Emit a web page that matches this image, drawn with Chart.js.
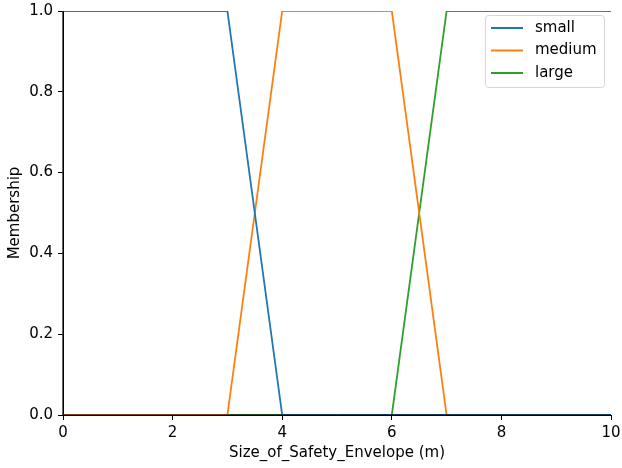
<!DOCTYPE html>
<html>
<head>
<meta charset="utf-8">
<script src="https://cdn.jsdelivr.net/npm/chart.js@4.4.0/dist/chart.umd.min.js"></script>
<style>
  html, body { margin: 0; padding: 0; background: #fff; }
  #wrap { width: 622px; height: 468px; }
</style>
</head>
<body>
<div id="wrap"><canvas id="fuzzyChart" width="622" height="468"></canvas></div>
<script>
// membership functions (x breakpoints and membership values)
const xSmall = [0, 3, 4, 10];
const ySmall = [1, 1, 0, 0];
const xMedium = [0, 3, 4, 6, 7, 10];
const yMedium = [0, 0, 1, 1, 0, 0];
const xLarge = [0, 6, 7, 10];
const yLarge = [0, 0, 1, 1];
const seriesNames = ['small', 'medium', 'large'];
const seriesColors = ['#1f77b4', '#ff7f0e', '#2ca02c'];
const xTicks = [0, 2, 4, 6, 8, 10];
const yTicks = [0, 0.2, 0.4, 0.6, 0.8, 1.0];

function toPoints(xs, ys) {
    return xs.map((x, i) => ({ x: x, y: ys[i] }));
}

const FONT = 'DejaVu Sans';
const FSIZE = 15;

// spines sit on top of the lines, like matplotlib
const spinesOnTop = {
    id: 'spinesOnTop',
    afterDatasetsDraw(chart) {
        const ctx = chart.ctx;
        const a = chart.chartArea;
        ctx.save();
        ctx.strokeStyle = '#000';
        ctx.lineWidth = 1.2;
        ctx.beginPath();
        ctx.moveTo(a.left, a.top);
        ctx.lineTo(a.left, a.bottom);
        ctx.lineTo(a.right, a.bottom);
        ctx.stroke();
        ctx.restore();
    }
};

// matplotlib-like legend box in the upper right corner
const boxLegend = {
    id: 'boxLegend',
    afterDraw(chart) {
        const ctx = chart.ctx;
        const area = chart.chartArea;
        const w = 119, h = 72;
        const left = area.right - 126;
        const top = area.top + 4;
        ctx.save();
        ctx.fillStyle = 'rgba(255,255,255,0.8)';
        ctx.strokeStyle = '#d6d6d6';
        ctx.lineWidth = 1;
        ctx.beginPath();
        ctx.roundRect(left + 0.5, top + 0.5, w, h, 3);
        ctx.fill();
        ctx.stroke();
        ctx.font = FSIZE + 'px "' + FONT + '"';
        ctx.textBaseline = 'middle';
        chart.data.datasets.forEach((ds, i) => {
            const y = top + 13 + i * 22.5;
            ctx.strokeStyle = ds.borderColor;
            ctx.lineWidth = 2;
            ctx.beginPath();
            ctx.moveTo(left + 6, y);
            ctx.lineTo(left + 38, y);
            ctx.stroke();
            ctx.fillStyle = '#000';
            ctx.fillText(ds.label, left + 50, y);
        });
        ctx.restore();
    }
};

document.addEventListener("DOMContentLoaded", function() {
    var ctx = document.getElementById('fuzzyChart').getContext('2d');
    var chart = new Chart(ctx, {
        type: 'line',
        data: {
            datasets: [
                { label: seriesNames[0], data: toPoints(xSmall, ySmall) },
                { label: seriesNames[1], data: toPoints(xMedium, yMedium) },
                { label: seriesNames[2], data: toPoints(xLarge, yLarge) }
            ].map((ds, i) => Object.assign(ds, {
                borderColor: seriesColors[i],
                backgroundColor: seriesColors[i],
                borderWidth: 1.8,
                pointRadius: 0,
                tension: 0,
                fill: false
            }))
        },
        options: {
            responsive: false,
            animation: false,
            layout: { padding: { left: 0, right: 11, top: 11, bottom: 0 } },
            plugins: {
                legend: { display: false },
                tooltip: { enabled: false }
            },
            scales: {
                x: {
                    type: 'linear',
                    min: 0,
                    max: 10,
                    afterBuildTicks: axis => { axis.ticks = xTicks.map(v => ({ value: v })); },
                    afterFit: axis => {
                        axis.height = 53;
                        axis.paddingLeft = 0;
                        axis.paddingRight = 0;
                    },
                    ticks: {
                        color: '#000',
                        font: { family: FONT, size: FSIZE },
                        padding: 4,
                        maxRotation: 0,
                        callback: v => String(v)
                    },
                    grid: {
                        drawOnChartArea: false,
                        drawTicks: true,
                        tickLength: 5,
                        tickColor: '#000'
                    },
                    border: { color: '#000', width: 1 },
                    title: {
                        display: true,
                        text: 'Size_of_Safety_Envelope (m)',
                        color: '#000',
                        font: { family: FONT, size: FSIZE },
                        padding: { top: 2, bottom: 6 }
                    }
                },
                y: {
                    min: 0,
                    max: 1,
                    afterBuildTicks: axis => { axis.ticks = yTicks.map(v => ({ value: v })); },
                    afterFit: axis => {
                        axis.width = 63;
                        axis.paddingTop = 0;
                        axis.paddingBottom = 0;
                    },
                    ticks: {
                        color: '#000',
                        font: { family: FONT, size: FSIZE },
                        padding: 5,
                        callback: v => v.toFixed(1)
                    },
                    grid: {
                        drawOnChartArea: false,
                        drawTicks: true,
                        tickLength: 5,
                        tickColor: '#000'
                    },
                    border: { color: '#000', width: 1 },
                    title: {
                        display: true,
                        text: 'Membership',
                        color: '#000',
                        font: { family: FONT, size: FSIZE },
                        padding: { top: 6, bottom: 4 }
                    }
                }
            }
        },
        plugins: [spinesOnTop, boxLegend]
    });
});
</script>
</body>
</html>
